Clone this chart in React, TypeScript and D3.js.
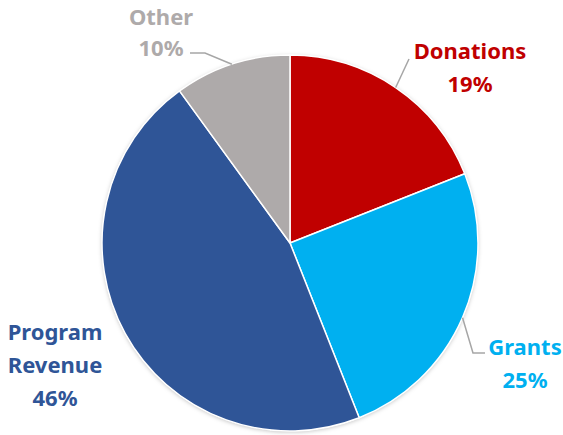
import React, { useRef, useEffect } from "react";
import * as d3 from "d3";

const categories = ["Donations", "Grants", "Program Revenue", "Other"];
const values = [19, 25, 46, 10];
const colors = ["#C00000", "#00B0F0", "#2F5597", "#AEAAAA"];
// label text lines per slice
const labelLines = [["Donations"], ["Grants"], ["Program", "Revenue"], ["Other"]];

interface Slice {
    name: string;
    value: number;
    color: string;
    lines: string[];
}

const App: React.FC = () => {
    const svgRef = useRef<SVGSVGElement | null>(null);

    useEffect(() => {
        const width = 563;
        const height = 435;
        const cx = 290;
        const cy = 243;
        const radius = 188;

        const data: Slice[] = categories.map((c, i) => ({
            name: c,
            value: values[i],
            color: colors[i],
            lines: labelLines[i],
        }));

        const svg = d3.select(svgRef.current!);
        svg.selectAll("*").remove();
        svg.attr("width", width).attr("height", height);

        const defs = svg.append("defs");
        const filter = defs
            .append("filter")
            .attr("id", "shadow")
            .attr("x", "-10%")
            .attr("y", "-10%")
            .attr("width", "120%")
            .attr("height", "120%");
        filter
            .append("feDropShadow")
            .attr("dx", 0)
            .attr("dy", 1)
            .attr("stdDeviation", 2)
            .attr("flood-color", "#000")
            .attr("flood-opacity", 0.25);

        const pie = d3
            .pie<Slice>()
            .value((d) => d.value)
            .sort(null);
        const arcs = pie(data);
        const total = d3.sum(values);

        const arc = d3.arc<d3.PieArcDatum<Slice>>().innerRadius(0).outerRadius(radius);

        const g = svg.append("g").attr("transform", `translate(${cx},${cy})`);

        g.append("circle").attr("r", radius).attr("fill", "#fff").attr("filter", "url(#shadow)");

        g.selectAll("path.slice")
            .data(arcs)
            .join("path")
            .attr("class", "slice")
            .attr("d", arc)
            .attr("fill", (d) => d.data.color)
            .attr("stroke", "#fff")
            .attr("stroke-width", 1.5)
            .attr("stroke-linejoin", "round");

        // label layout: text center x, first baseline y, elbow point of leader line (relative to center)
        const labelPos = [
            { x: 180, y: -184, elbow: [[119, -184]] },
            { x: 235, y: 112, elbow: [[183, 110], [195, 110]] },
            { x: -235, y: 97, elbow: [] },
            { x: -129, y: -218, lineH: 31, elbow: [[-85, -190], [-100, -190]] },
        ];

        const fontFamily = "'Noto Sans', 'Open Sans', sans-serif";

        arcs.forEach((a, i) => {
            const mid = (a.startAngle + a.endAngle) / 2;
            const edge: [number, number] = [radius * Math.sin(mid), -radius * Math.cos(mid)];
            const p = labelPos[i];
            const lineH = p.lineH ?? 33;
            if (p.elbow.length) {
                const pts: [number, number][] = [edge, ...(p.elbow as [number, number][])];
                g.append("path")
                    .attr("d", d3.line()(pts))
                    .attr("fill", "none")
                    .attr("stroke", "#A6A6A6")
                    .attr("stroke-width", 1.5);
            }
            const lines = [...a.data.lines, `${Math.round((a.data.value / total) * 100)}%`];
            const text = g
                .append("text")
                .attr("text-anchor", "middle")
                .attr("font-family", fontFamily)
                .attr("font-weight", "bold")
                .attr("font-size", 22)
                .attr("fill", a.data.color);
            lines.forEach((l, j) => {
                text.append("tspan").attr("x", p.x).attr("y", p.y + j * lineH).text(l);
            });
        });
    }, []);

    return (
        <svg
            ref={svgRef}
            style={{ position: "absolute", left: 0, top: 0, background: "#fff" }}
            width={563}
            height={435}
        />
    );
};

export default App;
